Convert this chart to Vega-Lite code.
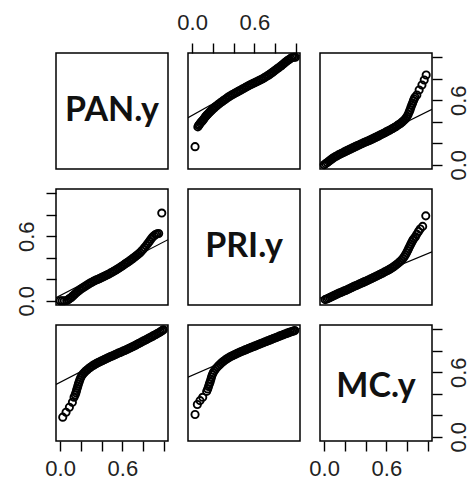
{
  "$schema": "https://vega.github.io/schema/vega-lite/v6.json",
  "padding": {"left": 14, "top": 10, "right": 0, "bottom": 0},
  "background": "white",
  "columns": 3,
  "spacing": 20,
  "bounds": "flush",
  "config": {
    "view": {"stroke": "#000", "strokeWidth": 1.5},
    "axis": {
      "domain": false, "grid": false, "ticks": true, "tickSize": 10, "tickWidth": 1.4, "tickColor": "#000",
      "labelFont": "Liberation Sans", "labelFontSize": 22, "labelColor": "#222",
      "labelFlush": false, "labelOverlap": false, "title": null
    }
  },
  "datasets": {
    "fit": [
      {"p": "A", "x": -0.04, "y": 0.438}, {"p": "A", "x": 1.04, "y": 1.022},
      {"p": "B", "x": -0.04, "y": -0.003}, {"p": "B", "x": 1.04, "y": 0.515},
      {"p": "C", "x": -0.04, "y": 0.028}, {"p": "C", "x": 1.04, "y": 0.568},
      {"p": "D", "x": -0.04, "y": 0.024}, {"p": "D", "x": 1.04, "y": 0.456},
      {"p": "E", "x": -0.04, "y": 0.486}, {"p": "E", "x": 1.04, "y": 1.026},
      {"p": "F", "x": -0.04, "y": 0.554}, {"p": "F", "x": 1.04, "y": 1.008}
    ],
    "names": [
      {"label": "PAN.y", "x": 0.5, "y": 0.5},
      {"label": "PRI.y", "x": 0.5, "y": 0.5},
      {"label": "MC.y", "x": 0.5, "y": 0.5}
    ],
    "pts": [
      {"p":"A","x":0.028,"y":0.168},{"p":"A","x":0.055,"y":0.352},{"p":"A","x":0.062,"y":0.365},{"p":"A","x":0.07,"y":0.375},{"p":"A","x":0.08,"y":0.388},{"p":"A","x":0.09,"y":0.4},{"p":"A","x":0.1,"y":0.41},{"p":"A","x":0.11,"y":0.422},{"p":"A","x":0.12,"y":0.436},{"p":"A","x":0.13,"y":0.448},{"p":"A","x":0.14,"y":0.46},{"p":"A","x":0.15,"y":0.47},{"p":"A","x":0.16,"y":0.48},{"p":"A","x":0.17,"y":0.49},{"p":"A","x":0.18,"y":0.5},{"p":"A","x":0.19,"y":0.51},{"p":"A","x":0.2,"y":0.519},{"p":"A","x":0.215,"y":0.531},{"p":"A","x":0.23,"y":0.544},{"p":"A","x":0.245,"y":0.556},{"p":"A","x":0.26,"y":0.567},{"p":"A","x":0.275,"y":0.578},{"p":"A","x":0.29,"y":0.589},{"p":"A","x":0.305,"y":0.6},{"p":"A","x":0.32,"y":0.61},{"p":"A","x":0.335,"y":0.62},{"p":"A","x":0.35,"y":0.63},{"p":"A","x":0.365,"y":0.639},{"p":"A","x":0.38,"y":0.648},{"p":"A","x":0.395,"y":0.656},{"p":"A","x":0.41,"y":0.664},{"p":"A","x":0.425,"y":0.672},{"p":"A","x":0.44,"y":0.68},{"p":"A","x":0.455,"y":0.688},{"p":"A","x":0.47,"y":0.696},{"p":"A","x":0.485,"y":0.704},{"p":"A","x":0.5,"y":0.712},{"p":"A","x":0.515,"y":0.72},{"p":"A","x":0.53,"y":0.728},{"p":"A","x":0.545,"y":0.736},{"p":"A","x":0.56,"y":0.743},{"p":"A","x":0.575,"y":0.75},{"p":"A","x":0.59,"y":0.757},{"p":"A","x":0.605,"y":0.764},{"p":"A","x":0.62,"y":0.771},{"p":"A","x":0.635,"y":0.778},{"p":"A","x":0.65,"y":0.785},{"p":"A","x":0.665,"y":0.793},{"p":"A","x":0.68,"y":0.8},{"p":"A","x":0.695,"y":0.809},{"p":"A","x":0.71,"y":0.818},{"p":"A","x":0.725,"y":0.827},{"p":"A","x":0.74,"y":0.836},{"p":"A","x":0.755,"y":0.846},{"p":"A","x":0.77,"y":0.857},{"p":"A","x":0.785,"y":0.868},{"p":"A","x":0.8,"y":0.879},{"p":"A","x":0.815,"y":0.89},{"p":"A","x":0.83,"y":0.9},{"p":"A","x":0.845,"y":0.911},{"p":"A","x":0.86,"y":0.922},{"p":"A","x":0.875,"y":0.934},{"p":"A","x":0.89,"y":0.946},{"p":"A","x":0.905,"y":0.958},{"p":"A","x":0.92,"y":0.97},{"p":"A","x":0.935,"y":0.98},{"p":"A","x":0.95,"y":0.99},{"p":"A","x":0.965,"y":0.998},{"p":"A","x":0.98,"y":1.0},{"p":"A","x":0.995,"y":1.0},
      {"p":"B","x":0.0,"y":0.0},{"p":"B","x":0.015,"y":0.01},{"p":"B","x":0.03,"y":0.02},{"p":"B","x":0.045,"y":0.032},{"p":"B","x":0.06,"y":0.044},{"p":"B","x":0.075,"y":0.054},{"p":"B","x":0.09,"y":0.064},{"p":"B","x":0.105,"y":0.073},{"p":"B","x":0.12,"y":0.081},{"p":"B","x":0.135,"y":0.089},{"p":"B","x":0.15,"y":0.097},{"p":"B","x":0.165,"y":0.104},{"p":"B","x":0.18,"y":0.111},{"p":"B","x":0.195,"y":0.119},{"p":"B","x":0.21,"y":0.126},{"p":"B","x":0.225,"y":0.133},{"p":"B","x":0.24,"y":0.14},{"p":"B","x":0.255,"y":0.147},{"p":"B","x":0.27,"y":0.154},{"p":"B","x":0.285,"y":0.161},{"p":"B","x":0.3,"y":0.168},{"p":"B","x":0.315,"y":0.175},{"p":"B","x":0.33,"y":0.181},{"p":"B","x":0.345,"y":0.188},{"p":"B","x":0.36,"y":0.195},{"p":"B","x":0.375,"y":0.201},{"p":"B","x":0.39,"y":0.208},{"p":"B","x":0.405,"y":0.214},{"p":"B","x":0.42,"y":0.22},{"p":"B","x":0.435,"y":0.226},{"p":"B","x":0.45,"y":0.233},{"p":"B","x":0.465,"y":0.24},{"p":"B","x":0.48,"y":0.247},{"p":"B","x":0.495,"y":0.254},{"p":"B","x":0.51,"y":0.261},{"p":"B","x":0.525,"y":0.268},{"p":"B","x":0.54,"y":0.276},{"p":"B","x":0.555,"y":0.284},{"p":"B","x":0.57,"y":0.291},{"p":"B","x":0.585,"y":0.298},{"p":"B","x":0.6,"y":0.306},{"p":"B","x":0.615,"y":0.313},{"p":"B","x":0.63,"y":0.321},{"p":"B","x":0.645,"y":0.329},{"p":"B","x":0.66,"y":0.337},{"p":"B","x":0.675,"y":0.345},{"p":"B","x":0.69,"y":0.354},{"p":"B","x":0.705,"y":0.364},{"p":"B","x":0.72,"y":0.374},{"p":"B","x":0.735,"y":0.384},{"p":"B","x":0.75,"y":0.396},{"p":"B","x":0.765,"y":0.408},{"p":"B","x":0.78,"y":0.422},{"p":"B","x":0.79,"y":0.435},{"p":"B","x":0.8,"y":0.45},{"p":"B","x":0.81,"y":0.468},{"p":"B","x":0.82,"y":0.49},{"p":"B","x":0.828,"y":0.51},{"p":"B","x":0.836,"y":0.532},{"p":"B","x":0.845,"y":0.555},{"p":"B","x":0.853,"y":0.575},{"p":"B","x":0.861,"y":0.595},{"p":"B","x":0.868,"y":0.612},{"p":"B","x":0.876,"y":0.628},{"p":"B","x":0.894,"y":0.649},{"p":"B","x":0.916,"y":0.696},{"p":"B","x":0.943,"y":0.742},{"p":"B","x":0.965,"y":0.789},{"p":"B","x":0.984,"y":0.835},
      {"p":"C","x":0.0,"y":0.0},{"p":"C","x":0.02,"y":0.0},{"p":"C","x":0.04,"y":0.0},{"p":"C","x":0.064,"y":0.002},{"p":"C","x":0.08,"y":0.012},{"p":"C","x":0.095,"y":0.022},{"p":"C","x":0.11,"y":0.033},{"p":"C","x":0.125,"y":0.046},{"p":"C","x":0.14,"y":0.06},{"p":"C","x":0.155,"y":0.073},{"p":"C","x":0.17,"y":0.086},{"p":"C","x":0.185,"y":0.098},{"p":"C","x":0.2,"y":0.108},{"p":"C","x":0.215,"y":0.118},{"p":"C","x":0.23,"y":0.127},{"p":"C","x":0.245,"y":0.137},{"p":"C","x":0.26,"y":0.146},{"p":"C","x":0.275,"y":0.155},{"p":"C","x":0.29,"y":0.164},{"p":"C","x":0.305,"y":0.172},{"p":"C","x":0.32,"y":0.18},{"p":"C","x":0.335,"y":0.187},{"p":"C","x":0.35,"y":0.194},{"p":"C","x":0.365,"y":0.2},{"p":"C","x":0.38,"y":0.206},{"p":"C","x":0.395,"y":0.213},{"p":"C","x":0.41,"y":0.22},{"p":"C","x":0.425,"y":0.227},{"p":"C","x":0.44,"y":0.234},{"p":"C","x":0.455,"y":0.241},{"p":"C","x":0.47,"y":0.249},{"p":"C","x":0.485,"y":0.257},{"p":"C","x":0.5,"y":0.265},{"p":"C","x":0.515,"y":0.273},{"p":"C","x":0.53,"y":0.281},{"p":"C","x":0.545,"y":0.29},{"p":"C","x":0.56,"y":0.299},{"p":"C","x":0.575,"y":0.308},{"p":"C","x":0.59,"y":0.318},{"p":"C","x":0.605,"y":0.328},{"p":"C","x":0.62,"y":0.338},{"p":"C","x":0.635,"y":0.348},{"p":"C","x":0.65,"y":0.358},{"p":"C","x":0.665,"y":0.368},{"p":"C","x":0.68,"y":0.378},{"p":"C","x":0.695,"y":0.389},{"p":"C","x":0.71,"y":0.4},{"p":"C","x":0.725,"y":0.411},{"p":"C","x":0.74,"y":0.423},{"p":"C","x":0.755,"y":0.435},{"p":"C","x":0.77,"y":0.447},{"p":"C","x":0.785,"y":0.462},{"p":"C","x":0.8,"y":0.478},{"p":"C","x":0.815,"y":0.495},{"p":"C","x":0.83,"y":0.513},{"p":"C","x":0.845,"y":0.532},{"p":"C","x":0.86,"y":0.552},{"p":"C","x":0.875,"y":0.572},{"p":"C","x":0.89,"y":0.59},{"p":"C","x":0.905,"y":0.605},{"p":"C","x":0.92,"y":0.616},{"p":"C","x":0.935,"y":0.622},{"p":"C","x":0.95,"y":0.626},{"p":"C","x":0.98,"y":0.816},
      {"p":"D","x":0.01,"y":0.01},{"p":"D","x":0.025,"y":0.016},{"p":"D","x":0.04,"y":0.022},{"p":"D","x":0.055,"y":0.029},{"p":"D","x":0.07,"y":0.036},{"p":"D","x":0.085,"y":0.043},{"p":"D","x":0.1,"y":0.05},{"p":"D","x":0.115,"y":0.057},{"p":"D","x":0.13,"y":0.064},{"p":"D","x":0.145,"y":0.071},{"p":"D","x":0.16,"y":0.077},{"p":"D","x":0.175,"y":0.083},{"p":"D","x":0.19,"y":0.089},{"p":"D","x":0.205,"y":0.095},{"p":"D","x":0.22,"y":0.101},{"p":"D","x":0.235,"y":0.108},{"p":"D","x":0.25,"y":0.115},{"p":"D","x":0.265,"y":0.122},{"p":"D","x":0.28,"y":0.129},{"p":"D","x":0.295,"y":0.136},{"p":"D","x":0.31,"y":0.142},{"p":"D","x":0.325,"y":0.149},{"p":"D","x":0.34,"y":0.155},{"p":"D","x":0.355,"y":0.162},{"p":"D","x":0.37,"y":0.168},{"p":"D","x":0.385,"y":0.175},{"p":"D","x":0.4,"y":0.181},{"p":"D","x":0.415,"y":0.187},{"p":"D","x":0.43,"y":0.194},{"p":"D","x":0.445,"y":0.201},{"p":"D","x":0.46,"y":0.208},{"p":"D","x":0.475,"y":0.215},{"p":"D","x":0.49,"y":0.222},{"p":"D","x":0.505,"y":0.229},{"p":"D","x":0.52,"y":0.236},{"p":"D","x":0.535,"y":0.244},{"p":"D","x":0.55,"y":0.251},{"p":"D","x":0.565,"y":0.258},{"p":"D","x":0.58,"y":0.266},{"p":"D","x":0.595,"y":0.273},{"p":"D","x":0.61,"y":0.281},{"p":"D","x":0.625,"y":0.289},{"p":"D","x":0.64,"y":0.298},{"p":"D","x":0.655,"y":0.307},{"p":"D","x":0.67,"y":0.316},{"p":"D","x":0.685,"y":0.327},{"p":"D","x":0.7,"y":0.338},{"p":"D","x":0.715,"y":0.35},{"p":"D","x":0.73,"y":0.363},{"p":"D","x":0.745,"y":0.377},{"p":"D","x":0.76,"y":0.393},{"p":"D","x":0.772,"y":0.41},{"p":"D","x":0.784,"y":0.427},{"p":"D","x":0.795,"y":0.446},{"p":"D","x":0.805,"y":0.466},{"p":"D","x":0.815,"y":0.486},{"p":"D","x":0.825,"y":0.506},{"p":"D","x":0.835,"y":0.526},{"p":"D","x":0.845,"y":0.545},{"p":"D","x":0.855,"y":0.562},{"p":"D","x":0.865,"y":0.578},{"p":"D","x":0.88,"y":0.595},{"p":"D","x":0.894,"y":0.62},{"p":"D","x":0.91,"y":0.645},{"p":"D","x":0.926,"y":0.668},{"p":"D","x":0.95,"y":0.692},{"p":"D","x":0.98,"y":0.79},
      {"p":"E","x":0.025,"y":0.182},{"p":"E","x":0.057,"y":0.228},{"p":"E","x":0.089,"y":0.274},{"p":"E","x":0.118,"y":0.32},{"p":"E","x":0.134,"y":0.367},{"p":"E","x":0.145,"y":0.39},{"p":"E","x":0.152,"y":0.41},{"p":"E","x":0.158,"y":0.43},{"p":"E","x":0.164,"y":0.45},{"p":"E","x":0.17,"y":0.47},{"p":"E","x":0.176,"y":0.49},{"p":"E","x":0.183,"y":0.51},{"p":"E","x":0.19,"y":0.53},{"p":"E","x":0.198,"y":0.55},{"p":"E","x":0.208,"y":0.567},{"p":"E","x":0.22,"y":0.583},{"p":"E","x":0.233,"y":0.598},{"p":"E","x":0.247,"y":0.612},{"p":"E","x":0.262,"y":0.624},{"p":"E","x":0.277,"y":0.636},{"p":"E","x":0.292,"y":0.647},{"p":"E","x":0.307,"y":0.657},{"p":"E","x":0.322,"y":0.666},{"p":"E","x":0.337,"y":0.675},{"p":"E","x":0.352,"y":0.683},{"p":"E","x":0.367,"y":0.69},{"p":"E","x":0.382,"y":0.697},{"p":"E","x":0.397,"y":0.704},{"p":"E","x":0.412,"y":0.711},{"p":"E","x":0.427,"y":0.718},{"p":"E","x":0.442,"y":0.725},{"p":"E","x":0.457,"y":0.732},{"p":"E","x":0.472,"y":0.739},{"p":"E","x":0.487,"y":0.746},{"p":"E","x":0.502,"y":0.752},{"p":"E","x":0.517,"y":0.758},{"p":"E","x":0.532,"y":0.765},{"p":"E","x":0.547,"y":0.771},{"p":"E","x":0.562,"y":0.778},{"p":"E","x":0.577,"y":0.784},{"p":"E","x":0.592,"y":0.79},{"p":"E","x":0.607,"y":0.797},{"p":"E","x":0.622,"y":0.803},{"p":"E","x":0.637,"y":0.81},{"p":"E","x":0.652,"y":0.817},{"p":"E","x":0.667,"y":0.824},{"p":"E","x":0.682,"y":0.831},{"p":"E","x":0.697,"y":0.838},{"p":"E","x":0.712,"y":0.845},{"p":"E","x":0.727,"y":0.852},{"p":"E","x":0.742,"y":0.86},{"p":"E","x":0.757,"y":0.867},{"p":"E","x":0.772,"y":0.875},{"p":"E","x":0.787,"y":0.883},{"p":"E","x":0.802,"y":0.89},{"p":"E","x":0.817,"y":0.898},{"p":"E","x":0.832,"y":0.905},{"p":"E","x":0.847,"y":0.913},{"p":"E","x":0.862,"y":0.92},{"p":"E","x":0.877,"y":0.928},{"p":"E","x":0.892,"y":0.936},{"p":"E","x":0.907,"y":0.944},{"p":"E","x":0.922,"y":0.952},{"p":"E","x":0.937,"y":0.96},{"p":"E","x":0.952,"y":0.968},{"p":"E","x":0.967,"y":0.977},{"p":"E","x":0.982,"y":0.986},{"p":"E","x":0.995,"y":0.995},
      {"p":"F","x":0.028,"y":0.207},{"p":"F","x":0.05,"y":0.3},{"p":"F","x":0.076,"y":0.336},{"p":"F","x":0.102,"y":0.367},{"p":"F","x":0.14,"y":0.422},{"p":"F","x":0.15,"y":0.445},{"p":"F","x":0.158,"y":0.468},{"p":"F","x":0.166,"y":0.49},{"p":"F","x":0.173,"y":0.51},{"p":"F","x":0.18,"y":0.533},{"p":"F","x":0.187,"y":0.556},{"p":"F","x":0.195,"y":0.578},{"p":"F","x":0.204,"y":0.597},{"p":"F","x":0.215,"y":0.615},{"p":"F","x":0.228,"y":0.632},{"p":"F","x":0.242,"y":0.648},{"p":"F","x":0.257,"y":0.663},{"p":"F","x":0.272,"y":0.677},{"p":"F","x":0.287,"y":0.69},{"p":"F","x":0.302,"y":0.702},{"p":"F","x":0.317,"y":0.713},{"p":"F","x":0.332,"y":0.723},{"p":"F","x":0.347,"y":0.732},{"p":"F","x":0.362,"y":0.741},{"p":"F","x":0.377,"y":0.749},{"p":"F","x":0.392,"y":0.756},{"p":"F","x":0.407,"y":0.763},{"p":"F","x":0.422,"y":0.77},{"p":"F","x":0.437,"y":0.777},{"p":"F","x":0.452,"y":0.784},{"p":"F","x":0.467,"y":0.79},{"p":"F","x":0.482,"y":0.796},{"p":"F","x":0.497,"y":0.802},{"p":"F","x":0.512,"y":0.808},{"p":"F","x":0.527,"y":0.814},{"p":"F","x":0.542,"y":0.82},{"p":"F","x":0.557,"y":0.826},{"p":"F","x":0.572,"y":0.832},{"p":"F","x":0.587,"y":0.838},{"p":"F","x":0.602,"y":0.843},{"p":"F","x":0.617,"y":0.849},{"p":"F","x":0.632,"y":0.855},{"p":"F","x":0.647,"y":0.861},{"p":"F","x":0.662,"y":0.867},{"p":"F","x":0.677,"y":0.872},{"p":"F","x":0.692,"y":0.878},{"p":"F","x":0.707,"y":0.884},{"p":"F","x":0.722,"y":0.89},{"p":"F","x":0.737,"y":0.895},{"p":"F","x":0.752,"y":0.901},{"p":"F","x":0.767,"y":0.907},{"p":"F","x":0.782,"y":0.913},{"p":"F","x":0.797,"y":0.918},{"p":"F","x":0.812,"y":0.924},{"p":"F","x":0.827,"y":0.93},{"p":"F","x":0.842,"y":0.936},{"p":"F","x":0.857,"y":0.942},{"p":"F","x":0.872,"y":0.947},{"p":"F","x":0.887,"y":0.953},{"p":"F","x":0.902,"y":0.958},{"p":"F","x":0.917,"y":0.964},{"p":"F","x":0.932,"y":0.969},{"p":"F","x":0.947,"y":0.974},{"p":"F","x":0.962,"y":0.979},{"p":"F","x":0.977,"y":0.984},{"p":"F","x":0.99,"y":0.988}
    ]
  },
  "concat": [
    {
      "width": 112, "height": 116,
      "data": {"name": "names"},
      "transform": [{"filter": "datum.label == 'PAN.y'"}],
      "mark": {"type": "text", "font": "Lato", "fontWeight": "bold", "fontSize": 34, "color": "#111", "align": "center", "baseline": "middle"},
      "encoding": {
        "x": {"field": "x", "type": "quantitative", "scale": {"domain": [-0.04, 1.04], "nice": false, "zero": false}, "axis": null},
        "y": {"field": "y", "type": "quantitative", "scale": {"domain": [-0.04, 1.04], "nice": false, "zero": false}, "axis": null},
        "text": {"field": "label"}
      }
    },
    {
      "width": 112, "height": 116,
      "encoding": {
        "x": {"field": "x", "type": "quantitative", "scale": {"domain": [-0.04, 1.04], "nice": false, "zero": false},
              "axis": {"orient": "top", "values": [0, 0.2, 0.4, 0.6, 0.8, 1], "labelExpr": "datum.value == 0 || datum.value == 0.6 ? format(datum.value, '.1f') : ''", "labelBaseline": "alphabetic", "labelPadding": 14}},
        "y": {"field": "y", "type": "quantitative", "scale": {"domain": [-0.04, 1.04], "nice": false, "zero": false}, "axis": null}
      },
      "layer": [
        {"data": {"name": "fit"}, "transform": [{"filter": "datum.p == 'A'"}], "mark": {"type": "line", "color": "#000", "strokeWidth": 1.2, "clip": true}},
        {"data": {"name": "pts"}, "transform": [{"filter": "datum.p == 'A'"}], "mark": {"type": "point", "shape": "circle", "filled": false, "color": "#000", "size": 52, "strokeWidth": 1.9, "opacity": 1}}
      ]
    },
    {
      "width": 112, "height": 116,
      "encoding": {
        "x": {"field": "x", "type": "quantitative", "scale": {"domain": [-0.04, 1.04], "nice": false, "zero": false}, "axis": null},
        "y": {"field": "y", "type": "quantitative", "scale": {"domain": [-0.04, 1.04], "nice": false, "zero": false},
              "axis": {"orient": "right", "values": [0, 0.2, 0.4, 0.6, 0.8, 1], "labelExpr": "datum.value == 0 || datum.value == 0.6 ? format(datum.value, '.1f') : ''", "labelAngle": -90, "labelAlign": "center", "labelBaseline": "top", "labelPadding": 6}}
      },
      "layer": [
        {"data": {"name": "fit"}, "transform": [{"filter": "datum.p == 'B'"}], "mark": {"type": "line", "color": "#000", "strokeWidth": 1.2, "clip": true}},
        {"data": {"name": "pts"}, "transform": [{"filter": "datum.p == 'B'"}], "mark": {"type": "point", "shape": "circle", "filled": false, "color": "#000", "size": 52, "strokeWidth": 1.9, "opacity": 1}}
      ]
    },
    {
      "width": 112, "height": 116,
      "encoding": {
        "x": {"field": "x", "type": "quantitative", "scale": {"domain": [-0.04, 1.04], "nice": false, "zero": false}, "axis": null},
        "y": {"field": "y", "type": "quantitative", "scale": {"domain": [-0.04, 1.04], "nice": false, "zero": false},
              "axis": {"orient": "left", "values": [0, 0.2, 0.4, 0.6, 0.8, 1], "labelExpr": "datum.value == 0 || datum.value == 0.6 ? format(datum.value, '.1f') : ''", "labelAngle": -90, "labelAlign": "center", "labelBaseline": "alphabetic", "labelPadding": 13}}
      },
      "layer": [
        {"data": {"name": "fit"}, "transform": [{"filter": "datum.p == 'C'"}], "mark": {"type": "line", "color": "#000", "strokeWidth": 1.2, "clip": true}},
        {"data": {"name": "pts"}, "transform": [{"filter": "datum.p == 'C'"}], "mark": {"type": "point", "shape": "circle", "filled": false, "color": "#000", "size": 52, "strokeWidth": 1.9, "opacity": 1}}
      ]
    },
    {
      "width": 112, "height": 116,
      "data": {"name": "names"},
      "transform": [{"filter": "datum.label == 'PRI.y'"}],
      "mark": {"type": "text", "font": "Lato", "fontWeight": "bold", "fontSize": 34, "color": "#111", "align": "center", "baseline": "middle"},
      "encoding": {
        "x": {"field": "x", "type": "quantitative", "scale": {"domain": [-0.04, 1.04], "nice": false, "zero": false}, "axis": null},
        "y": {"field": "y", "type": "quantitative", "scale": {"domain": [-0.04, 1.04], "nice": false, "zero": false}, "axis": null},
        "text": {"field": "label"}
      }
    },
    {
      "width": 112, "height": 116,
      "encoding": {
        "x": {"field": "x", "type": "quantitative", "scale": {"domain": [-0.04, 1.04], "nice": false, "zero": false}, "axis": null},
        "y": {"field": "y", "type": "quantitative", "scale": {"domain": [-0.04, 1.04], "nice": false, "zero": false}, "axis": null}
      },
      "layer": [
        {"data": {"name": "fit"}, "transform": [{"filter": "datum.p == 'D'"}], "mark": {"type": "line", "color": "#000", "strokeWidth": 1.2, "clip": true}},
        {"data": {"name": "pts"}, "transform": [{"filter": "datum.p == 'D'"}], "mark": {"type": "point", "shape": "circle", "filled": false, "color": "#000", "size": 52, "strokeWidth": 1.9, "opacity": 1}}
      ]
    },
    {
      "width": 112, "height": 116,
      "encoding": {
        "x": {"field": "x", "type": "quantitative", "scale": {"domain": [-0.04, 1.04], "nice": false, "zero": false},
              "axis": {"orient": "bottom", "values": [0, 0.2, 0.4, 0.6, 0.8, 1], "labelExpr": "datum.value == 0 || datum.value == 0.6 ? format(datum.value, '.1f') : ''", "labelPadding": 7}},
        "y": {"field": "y", "type": "quantitative", "scale": {"domain": [-0.04, 1.04], "nice": false, "zero": false}, "axis": null}
      },
      "layer": [
        {"data": {"name": "fit"}, "transform": [{"filter": "datum.p == 'E'"}], "mark": {"type": "line", "color": "#000", "strokeWidth": 1.2, "clip": true}},
        {"data": {"name": "pts"}, "transform": [{"filter": "datum.p == 'E'"}], "mark": {"type": "point", "shape": "circle", "filled": false, "color": "#000", "size": 52, "strokeWidth": 1.9, "opacity": 1}}
      ]
    },
    {
      "width": 112, "height": 116,
      "encoding": {
        "x": {"field": "x", "type": "quantitative", "scale": {"domain": [-0.04, 1.04], "nice": false, "zero": false}, "axis": null},
        "y": {"field": "y", "type": "quantitative", "scale": {"domain": [-0.04, 1.04], "nice": false, "zero": false}, "axis": null}
      },
      "layer": [
        {"data": {"name": "fit"}, "transform": [{"filter": "datum.p == 'F'"}], "mark": {"type": "line", "color": "#000", "strokeWidth": 1.2, "clip": true}},
        {"data": {"name": "pts"}, "transform": [{"filter": "datum.p == 'F'"}], "mark": {"type": "point", "shape": "circle", "filled": false, "color": "#000", "size": 52, "strokeWidth": 1.9, "opacity": 1}}
      ]
    },
    {
      "width": 112, "height": 116,
      "data": {"name": "names"},
      "transform": [{"filter": "datum.label == 'MC.y'"}],
      "mark": {"type": "text", "font": "Lato", "fontWeight": "bold", "fontSize": 34, "color": "#111", "align": "center", "baseline": "middle", "dy": 4},
      "encoding": {
        "x": {"field": "x", "type": "quantitative", "scale": {"domain": [-0.04, 1.04], "nice": false, "zero": false},
              "axis": {"orient": "bottom", "values": [0, 0.2, 0.4, 0.6, 0.8, 1], "labelExpr": "datum.value == 0 || datum.value == 0.6 ? format(datum.value, '.1f') : ''", "labelPadding": 7}},
        "y": {"field": "y", "type": "quantitative", "scale": {"domain": [-0.04, 1.04], "nice": false, "zero": false},
              "axis": {"orient": "right", "values": [0, 0.2, 0.4, 0.6, 0.8, 1], "labelExpr": "datum.value == 0 || datum.value == 0.6 ? format(datum.value, '.1f') : ''", "labelAngle": -90, "labelAlign": "center", "labelBaseline": "top", "labelPadding": 6}},
        "text": {"field": "label"}
      }
    }
  ]
}
